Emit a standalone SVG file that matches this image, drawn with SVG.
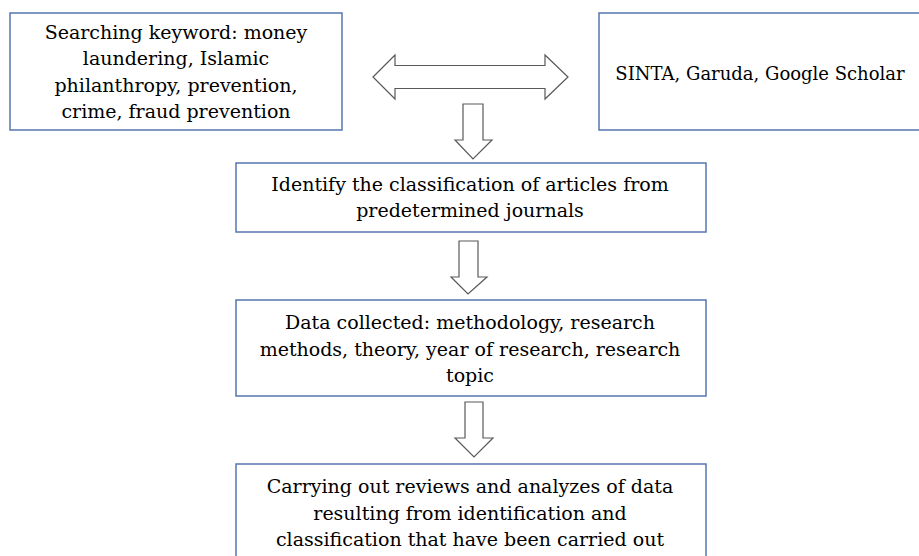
<svg xmlns="http://www.w3.org/2000/svg" width="919" height="556" viewBox="0 0 919 556">
<style>
.box{fill:#fff;stroke:#5677b0;stroke-width:1.5}
.arr{fill:#fff;stroke:#595959;stroke-width:1.2;stroke-linejoin:miter}
text{font-family:"DejaVu Serif","Liberation Serif",serif;font-size:19px;fill:#000;text-anchor:middle}
</style>
<rect width="919" height="556" fill="#fff"/>
<g id="connectors">
<path class="arr" d="M373,77 L395,55 L395,65.5 L545,65.5 L545,55 L568,77 L545,99 L545,88.5 L395,88.5 L395,99 Z"/>
<path class="arr" d="M463,104 L483,104 L483,140 L492,140 L473,159 L455,140 L463,140 Z"/>
<path class="arr" d="M459,241 L478,241 L478,277 L487,277 L468,294 L451,277 L459,277 Z"/>
<path class="arr" d="M465,402 L483,402 L483,438 L493,438 L474,457 L455,438 L465,438 Z"/>
</g>
<g id="n1">
<rect class="box" x="10" y="13" width="332" height="117"/>
<text x="176" y="39">Searching keyword: money</text>
<text x="176" y="65">laundering, Islamic</text>
<text x="176" y="92">philanthropy, prevention,</text>
<text x="176" y="118">crime, fraud prevention</text>
</g>
<g id="n2">
<path class="box" d="M919,13 H599 V130 H919"/>
<text x="760" y="80" style="font-size:18px">SINTA, Garuda, Google Scholar</text>
</g>
<g id="n3">
<rect class="box" x="236" y="163" width="470" height="69"/>
<text x="470" y="191">Identify the classification  of articles from</text>
<text x="470" y="217">predetermined journals</text>
</g>
<g id="n4">
<rect class="box" x="236" y="300" width="470" height="96"/>
<text x="470" y="329">Data collected: methodology, research</text>
<text x="470" y="356">methods, theory, year of research, research</text>
<text x="470" y="382">topic</text>
</g>
<g id="n5">
<rect class="box" x="236" y="464" width="470" height="100"/>
<text x="470" y="493">Carrying out reviews and analyzes of data</text>
<text x="470" y="520">resulting from identification  and</text>
<text x="470" y="546">classification that have been carried out</text>
</g>
</svg>
